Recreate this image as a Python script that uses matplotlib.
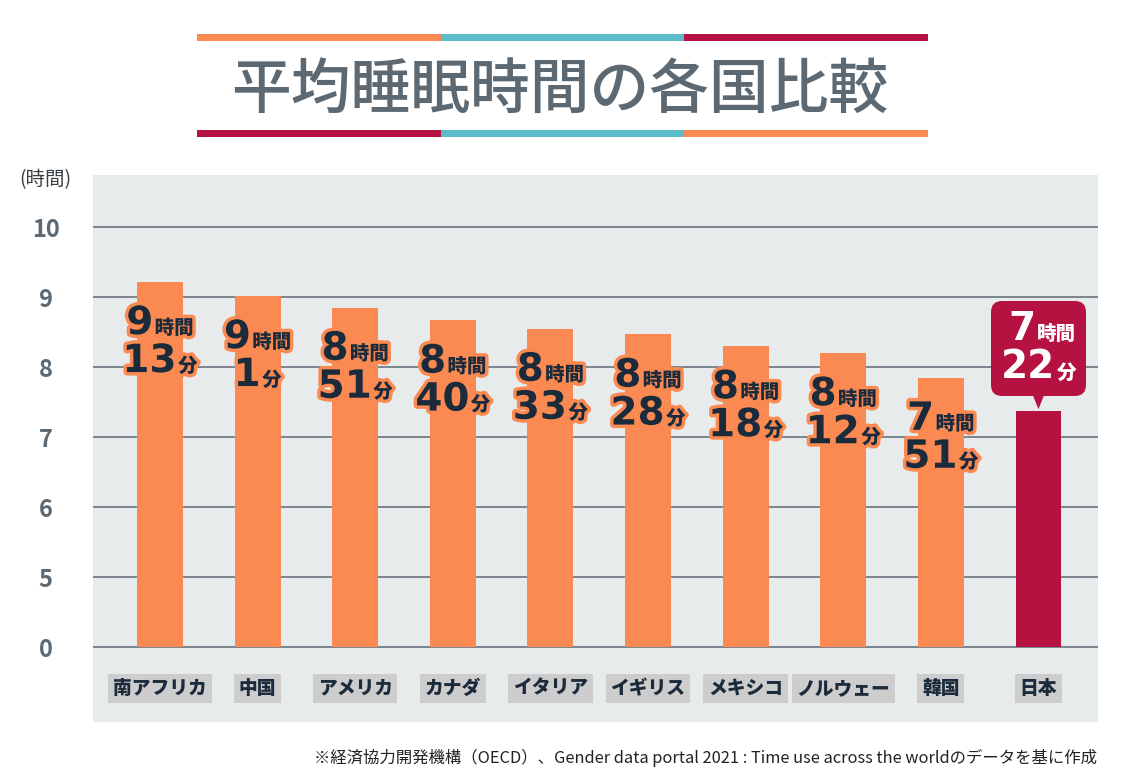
import numpy as np
import matplotlib
matplotlib.use("Agg")
import matplotlib.pyplot as plt
from matplotlib import patheffects
from matplotlib.offsetbox import TextArea, HPacker, VPacker, AnnotationBbox
from matplotlib.patches import Rectangle, Polygon

plt.rcParams['font.family'] = ['Noto Sans CJK JP', 'DejaVu Sans']

# data
countries = ["南アフリカ", "中国", "アメリカ", "カナダ", "イタリア",
             "イギリス", "メキシコ", "ノルウェー", "韓国", "日本"]
hours = [9, 9, 8, 8, 8, 8, 8, 8, 7, 7]
minutes = [13, 1, 51, 40, 33, 28, 18, 12, 51, 22]
ytick_values = [0, 5, 6, 7, 8, 9, 10]

ORANGE = "#fa8a52"
TEAL = "#5bbcc9"
CRIMSON = "#b51241"
SLATE = "#5c6973"
NAVY = "#1b2b3b"
PANEL = "#e8ebec"

W, H = 1125, 777


def scale(v):
    """Broken axis: 0 sits one step below 5."""
    v = np.asarray(v, dtype=float)
    return np.where(v >= 5, v - 4, 0.0)


values = np.array(hours) + np.array(minutes) / 60.0
ys = scale(values)
x = np.arange(len(countries))

fig = plt.figure(figsize=(W / 100, H / 100), dpi=100)
fig.patch.set_facecolor("white")

ax = fig.add_axes([93 / W, (H - 722) / H, (1098 - 93) / W, (722 - 175) / H])
ax.set_facecolor(PANEL)
ax.set_xlim(-0.686, 9.61)
ax.set_ylim(-1.071, 6.743)
for s in ax.spines.values():
    s.set_visible(False)

for p in scale(ytick_values):
    ax.axhline(p, color=SLATE, lw=1.1, zorder=1)

colors = [ORANGE] * (len(countries) - 1) + [CRIMSON]
ax.bar(x, ys, width=0.47, color=colors, zorder=2)

ax.set_xticks([])
ax.set_yticks(scale(ytick_values))
ax.set_yticklabels([str(v) for v in ytick_values])
ax.tick_params(axis="y", length=0, pad=34, labelsize=17, labelcolor=SLATE)
for lbl in ax.get_yticklabels():
    lbl.set_ha("center")
    lbl.set_fontweight("bold")

# category labels in grey boxes
for i, c in enumerate(countries):
    ax.text(i, -0.59, c, ha="center", va="center", fontsize=13.5,
            fontweight="heavy", color=NAVY, zorder=3,
            bbox=dict(boxstyle="square,pad=0.25", fc="#cdcdcd", ec="none"))

# value labels
stroke = [patheffects.withStroke(linewidth=5, foreground=ORANGE)]


def value_box(h, m, color, fx, align):
    big = dict(fontsize=28, fontweight="bold", color=color, path_effects=fx,
               family="DejaVu Sans")
    small = dict(fontsize=14, fontweight="heavy", color=color, path_effects=fx)
    line1 = HPacker(children=[TextArea(str(h), textprops=big),
                              TextArea("時間", textprops=small)],
                    align="baseline", pad=0, sep=1)
    line2 = HPacker(children=[TextArea(str(m), textprops=big),
                              TextArea("分", textprops=small)],
                    align="baseline", pad=0, sep=1)
    return VPacker(children=[line1, line2], align=align, pad=0, sep=0)


for i in range(len(countries) - 1):
    box = value_box(hours[i], minutes[i], NAVY, stroke, "center")
    ab = AnnotationBbox(box, (i, ys[i]), xybox=(0, -16), xycoords="data",
                        boxcoords="offset points", box_alignment=(0.5, 1),
                        frameon=False, zorder=5)
    ax.add_artist(ab)

# Japan callout
j = len(countries) - 1
box = value_box(hours[j], minutes[j], "white", [], "right")
ab = AnnotationBbox(box, (j, ys[j]), xybox=(0, 18), xycoords="data",
                    boxcoords="offset points", box_alignment=(0.5, 0),
                    frameon=True, pad=0.7, zorder=5,
                    bboxprops=dict(boxstyle="round,pad=0.7,rounding_size=0.8",
                                   fc=CRIMSON, ec="none"))
ax.add_artist(ab)
ax.add_patch(Polygon([(j - 0.12, ys[j] + 0.45), (j + 0.12, ys[j] + 0.45),
                      (j, ys[j] + 0.03)], closed=True, fc=CRIMSON, ec="none",
                     zorder=4))

# title with coloured rules
fig.text(560 / W, 1 - 90 / H, "平均睡眠時間の各国比較", fontsize=43,
         color=SLATE, ha="center", va="center", fontweight="medium")
seg = (928 - 197) / 3
for k, c in enumerate([ORANGE, TEAL, CRIMSON]):
    fig.add_artist(Rectangle(((197 + k * seg) / W, 1 - 41 / H), seg / W, 7 / H,
                             transform=fig.transFigure, fc=c, ec="none"))
for k, c in enumerate([CRIMSON, TEAL, ORANGE]):
    fig.add_artist(Rectangle(((197 + k * seg) / W, 1 - 137 / H), seg / W, 7 / H,
                             transform=fig.transFigure, fc=c, ec="none"))

fig.text(45 / W, 1 - 180 / H, "(時間)", ha="center", va="center",
         fontsize=14, color="#3a3f44")
fig.text(1097 / W, 1 - 758 / H,
         "※経済協力開発機構（OECD）、Gender data portal 2021 : Time use across the worldのデータを基に作成",
         ha="right", va="center", fontsize=11.8, color="#222222")

fig.savefig("out.png", dpi=100)
